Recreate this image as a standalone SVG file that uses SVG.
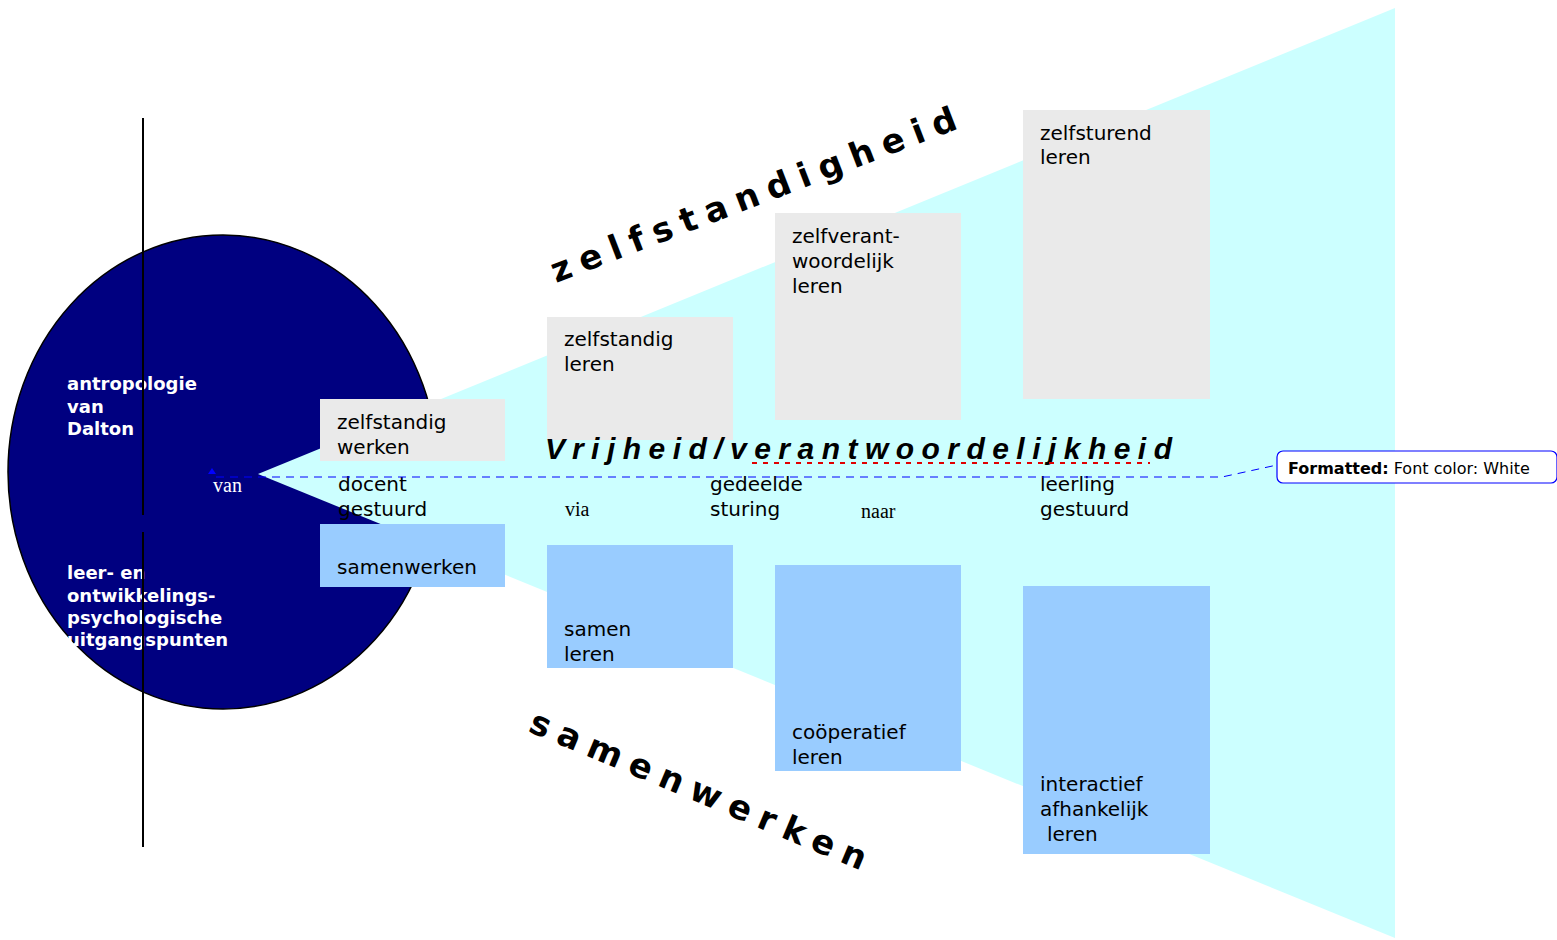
<svg xmlns="http://www.w3.org/2000/svg" width="1557" height="940" viewBox="0 0 1557 940">
<style>
.box{font-family:"DejaVu Sans",Verdana,sans-serif;font-size:20px;fill:#000}
.ctext{font-family:"DejaVu Sans",Verdana,sans-serif;font-size:18px;font-weight:bold;fill:#fff}
.serif{font-family:"Liberation Serif","Times New Roman",serif;font-size:20px}
.big{font-family:"DejaVu Sans",Verdana,sans-serif;font-size:34px;font-weight:bold;fill:#000}
.gray{fill:#EAEAEA}
.blue{fill:#99CCFF}
</style>
<rect width="1557" height="940" fill="#fff"/>
<g id="circle">
<ellipse cx="223" cy="472" rx="215" ry="237" fill="#000080" stroke="#000" stroke-width="1.5"/>
</g>
<g id="funnel">
<polygon points="258,474 1395,8 1395,938" fill="#CCFFFF"/>
</g>
<g id="circle-text">
<text class="ctext"><tspan x="67" y="390">antropologie</tspan><tspan x="67" y="413">van</tspan><tspan x="67" y="435">Dalton</tspan></text>
<text class="ctext"><tspan x="67" y="579">leer- en</tspan><tspan x="67" y="602">ontwikkelings-</tspan><tspan x="67" y="624">psychologische</tspan><tspan x="67" y="646">uitgangspunten</tspan></text>
</g>
<g id="axis">
<line x1="143" y1="118" x2="143" y2="515" stroke="#000" stroke-width="2"/>
<line x1="143" y1="532" x2="143" y2="847" stroke="#000" stroke-width="2"/>
</g>
<g id="box-zelfstandig-werken">
<rect class="gray" x="320" y="399" width="185" height="62"/>
<text class="box"><tspan x="337" y="429">zelfstandig</tspan><tspan x="337" y="454">werken</tspan></text>
</g>
<g id="box-samenwerken">
<rect class="blue" x="320" y="524" width="185" height="63"/>
<text class="box" x="337" y="574">samenwerken</text>
</g>
<g id="box-zelfstandig-leren">
<rect class="gray" x="547" y="317" width="186" height="123"/>
<text class="box"><tspan x="564" y="346">zelfstandig</tspan><tspan x="564" y="371">leren</tspan></text>
</g>
<g id="box-zelfverantwoordelijk">
<rect class="gray" x="775" y="213" width="186" height="207"/>
<text class="box"><tspan x="792" y="243">zelfverant-</tspan><tspan x="792" y="268">woordelijk</tspan><tspan x="792" y="293">leren</tspan></text>
</g>
<g id="box-zelfsturend">
<rect class="gray" x="1023" y="110" width="187" height="289"/>
<text class="box"><tspan x="1040" y="140">zelfsturend</tspan><tspan x="1040" y="164">leren</tspan></text>
</g>
<g id="box-samen-leren">
<rect class="blue" x="547" y="545" width="186" height="123"/>
<text class="box"><tspan x="564" y="636">samen</tspan><tspan x="564" y="661">leren</tspan></text>
</g>
<g id="box-cooperatief">
<rect class="blue" x="775" y="565" width="186" height="206"/>
<text class="box"><tspan x="792" y="739">coöperatief</tspan><tspan x="792" y="764">leren</tspan></text>
</g>
<g id="box-interactief">
<rect class="blue" x="1023" y="586" width="187" height="268"/>
<text class="box"><tspan x="1040" y="791">interactief</tspan><tspan x="1040" y="816">afhankelijk</tspan><tspan x="1047" y="841">leren</tspan></text>
</g>
<g id="labels">
<text class="box"><tspan x="338" y="491">docent</tspan><tspan x="338" y="516">gestuurd</tspan></text>
<text class="box"><tspan x="710" y="491">gedeelde</tspan><tspan x="710" y="516">sturing</tspan></text>
<text class="box"><tspan x="1040" y="491">leerling</tspan><tspan x="1040" y="516">gestuurd</tspan></text>
<text class="serif" x="565" y="516" fill="#000">via</text>
<text class="serif" x="861" y="518" fill="#000">naar</text>
<text class="serif" x="213" y="492" fill="#fff">van</text>
<text x="545" y="459" textLength="627" lengthAdjust="spacing" style="font-family:'Liberation Sans',Arial,sans-serif;font-size:30px;font-weight:bold;font-style:italic">Vrijheid/verantwoordelijkheid</text>
<line x1="752" y1="463" x2="1150" y2="463" stroke="#E00000" stroke-width="2" stroke-dasharray="5,6"/>
<text class="big" transform="translate(556,283) rotate(-21)" textLength="432" lengthAdjust="spacing">zelfstandigheid</text>
<text class="big" transform="translate(527,731) rotate(22.7)" textLength="362" lengthAdjust="spacing">samenwerken</text>
</g>
<g id="connectors">
<polyline points="216,477 1222,477 1277,465" fill="none" stroke="#0000FF" stroke-width="1" stroke-dasharray="8,6"/>
<polygon points="212,468 208,474 216,474" fill="#0000FF"/>
</g>
<g id="callout">
<rect x="1277" y="451" width="280" height="32" rx="6" fill="#fff" stroke="#0000FF" stroke-width="1.2"/>
<text x="1288" y="474" style="font-family:'DejaVu Sans',Verdana,sans-serif;font-size:16px"><tspan font-weight="bold">Formatted:</tspan> Font color: White</text>
</g>
</svg>
